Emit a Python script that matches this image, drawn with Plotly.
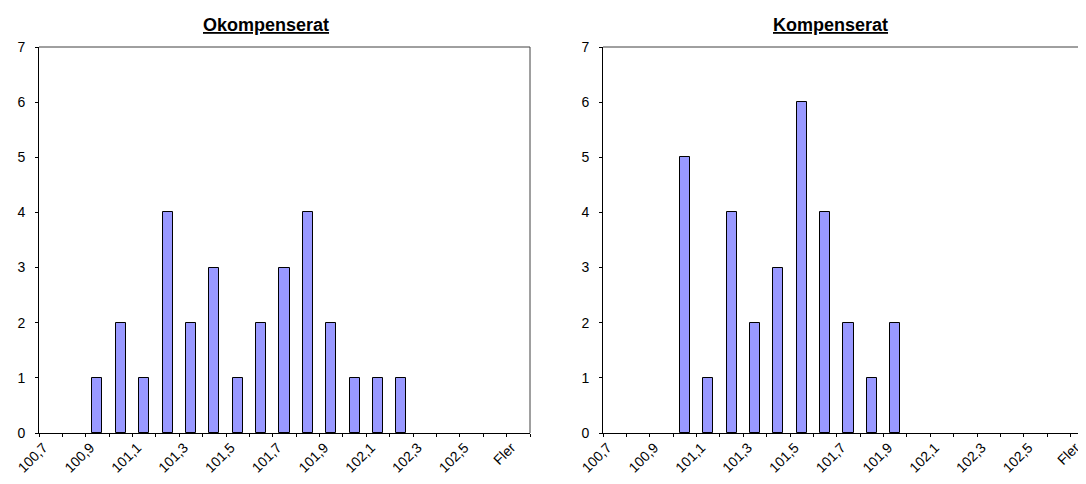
import plotly.graph_objects as go

categories = ["100,7", "100,8", "100,9", "101,0", "101,1", "101,2", "101,3", "101,4",
              "101,5", "101,6", "101,7", "101,8", "101,9", "102,0", "102,1", "102,2",
              "102,3", "102,4", "102,5", "102,6", "Fler"]
okompenserat = [0, 0, 1, 2, 1, 4, 2, 3, 1, 2, 3, 4, 2, 1, 1, 1, 0, 0, 0, 0, 0]
kompenserat = [0, 0, 0, 5, 1, 4, 2, 3, 6, 4, 2, 1, 2, 0, 0, 0, 0, 0, 0, 0, 0]
titles = ["Okompenserat", "Kompenserat"]

# page body has an 8px default margin -> figure is 8px smaller, coords shifted
OFF = 8
W, H = 1086 - OFF, 484 - OFF
FONT = "Liberation Sans, Arial, sans-serif"
pos = list(range(len(categories)))
LABEL_SHIFT = 0.3  # rotated label ends a little left of the category centre
label_vals = [p - LABEL_SHIFT for p in pos[::2]]
label_text = categories[::2]
bound_vals = [p - 0.5 for p in pos] + [pos[-1] + 0.5]


def px_x(x):
    return (x - OFF) / W


def px_y(y):
    return (H - (y - OFF)) / H


ydom = [px_y(433), px_y(47)]
xdom1 = [px_x(39), px_x(530)]
xdom2 = [px_x(603), 1.0]
catw = (xdom1[1] - xdom1[0]) * W / len(categories)
range1 = [-0.5, len(categories) - 0.5]
range2 = [-0.5, -0.5 + (xdom2[1] - xdom2[0]) * W / catw]

fig = go.Figure()
for vals, xa, ya in [(okompenserat, "x", "y"), (kompenserat, "x2", "y2")]:
    fig.add_trace(go.Bar(x=pos, y=vals, xaxis=xa, yaxis=ya, width=0.43,
                         marker=dict(color="#9999FF",
                                     line=dict(color="#000000",
                                               width=[1 if v > 0 else 0 for v in vals])),
                         showlegend=False, hoverinfo="x+y"))


def xmain(dom, rng):
    return dict(domain=dom, range=rng, showgrid=False, zeroline=False, automargin=False,
                showline=True, linecolor="black", linewidth=1,
                tickmode="array", tickvals=label_vals, ticktext=label_text,
                ticks="", tickangle=-45, ticklabeloverflow="allow",
                tickfont=dict(family=FONT, size=14, color="black"),
                minor=dict(tickmode="array", tickvals=bound_vals, ticks="outside",
                           ticklen=3, tickcolor="black", tickwidth=1, showgrid=False))


def xover(base, anchor, rng):
    return dict(overlaying=base, anchor=anchor, range=rng, showgrid=False, zeroline=False,
                showline=False, showticklabels=False, automargin=False,
                tickmode="array", tickvals=bound_vals, ticks="inside",
                ticklen=3, tickcolor="black", tickwidth=1)


def ymain(anchor):
    return dict(domain=ydom, anchor=anchor, range=[0, 7], dtick=1, tick0=0,
                showgrid=False, zeroline=False, showline=True, linecolor="black",
                linewidth=1, ticks="outside", ticklen=3, tickcolor="black",
                ticklabelstandoff=7, automargin=False,
                tickfont=dict(family=FONT, size=14, color="black"))


def yover(base, anchor):
    return dict(overlaying=base, anchor=anchor, range=[0, 7], dtick=1, tick0=0,
                showgrid=False, zeroline=False, showline=False, showticklabels=False,
                automargin=False, ticks="inside", ticklen=3, tickcolor="black")


fig.update_layout(
    width=W, height=H,
    margin=dict(l=0, r=0, t=0, b=0),
    paper_bgcolor="white", plot_bgcolor="white",
    font=dict(family=FONT, color="black"),
    bargap=0,
    xaxis=dict(anchor="y", **xmain(xdom1, range1)),
    yaxis=ymain("x"),
    xaxis2=dict(anchor="y2", **xmain(xdom2, range2)),
    yaxis2=ymain("x2"),
    xaxis3=xover("x", "y", range1),
    xaxis4=xover("x2", "y2", range2),
    yaxis3=yover("y", "x"),
    yaxis4=yover("y2", "x2"),
)

# plot-area borders (top / right)
border = dict(color="#404040", width=1)
fig.add_shape(type="line", xref="x domain", yref="y domain", x0=0, x1=1, y0=1, y1=1, line=border)
fig.add_shape(type="line", xref="x domain", yref="y domain", x0=1, x1=1, y0=0, y1=1, line=border)
fig.add_shape(type="line", xref="x2 domain", yref="y2 domain", x0=0, x1=1, y0=1, y1=1, line=border)

for t, cx in zip(titles, [266, 830]):
    fig.add_annotation(text="<b><u>" + t + "</u></b>", x=px_x(cx), y=px_y(25),
                       xref="paper", yref="paper", showarrow=False,
                       xanchor="center", yanchor="middle",
                       font=dict(family=FONT, size=18, color="black"))

fig.write_html("out.html")
